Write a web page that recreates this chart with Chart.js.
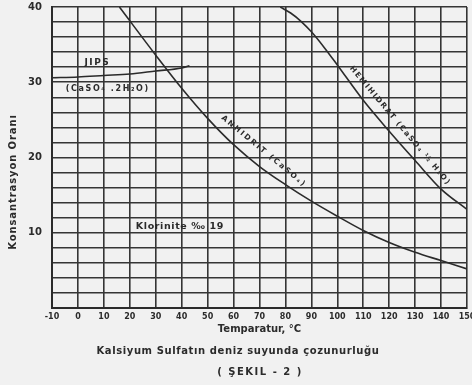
<!DOCTYPE html>
<html>
<head>
<meta charset="utf-8">
<script src="https://cdn.jsdelivr.net/npm/chart.js@4.4.1/dist/chart.umd.min.js"></script>
<style>
  html, body { margin: 0; padding: 0; background: #f1f1f1; }
  #wrap { width: 472px; height: 385px; }
</style>
</head>
<body>
<div id="wrap"><canvas id="c"></canvas></div>
<script>
// Temperature (°C) and concentration ratio
const jipsTemp = [-10, 0, 10, 20, 30, 40, 43];
const jipsConc = [30.6, 30.7, 30.9, 31.1, 31.5, 31.9, 32.2];

const anhTemp = [16, 30, 40, 50, 60, 70, 80, 90, 100, 110, 120, 130, 140, 150];
const anhConc = [40, 33.6, 29.2, 25.2, 21.7, 18.8, 16.4, 14.2, 12.2, 10.3, 8.7, 7.4, 6.3, 5.2];

const hemiTemp = [78, 82, 86, 90, 95, 100, 110, 120, 130, 140, 150];
const hemiConc = [40, 39.2, 38.1, 36.7, 34.6, 32.3, 27.6, 23.5, 19.6, 15.8, 13.1];

const yLabels = [10, 20, 30, 40];

const ink = "#2b2b2b";
const grid = "#353535";
const fontName = '"DejaVu Sans", sans-serif';

function pts(xs, ys) {
	return xs.map((t, i) => ({ x: t, y: ys[i] }));
}

function curve(data) {
	return {
		data: data,
		borderColor: ink,
		borderWidth: 1.6,
		pointRadius: 0,
		cubicInterpolationMode: "monotone",
		fill: false,
	};
}

// paper background
const paper = {
	id: "paper",
	beforeDraw(chart) {
		const { ctx } = chart;
		ctx.save();
		ctx.fillStyle = "#f1f1f1";
		ctx.fillRect(0, 0, chart.width, chart.height);
		ctx.restore();
	},
};

// curve labels, axis title and captions
const notes = {
	id: "notes",
	afterDraw(chart) {
		const { ctx, scales } = chart;
		const x = scales.x, y = scales.y;

		const put = (text, px, py, deg, size, spacing, weight) => {
			ctx.save();
			ctx.translate(px, py);
			ctx.rotate((deg * Math.PI) / 180);
			ctx.font = (weight || "bold") + " " + size + "px " + fontName;
			ctx.letterSpacing = (spacing || 0) + "px";
			ctx.fillStyle = ink;
			ctx.textAlign = "center";
			ctx.textBaseline = "middle";
			ctx.fillText(text, 0, 0);
			ctx.restore();
		};
		const at = (text, tx, ty, deg, size, spacing) =>
			put(text, x.getPixelForValue(tx), y.getPixelForValue(ty), deg, size, spacing);

		at("JIPS", 7.5, 32.6, 0, 9, 1.5);
		at("(CaSO\u2084 .2H\u2082O)", 11.5, 29.1, 0, 8, 1.6);
		at("ANHIDRIT (CaSO\u2084)", 71.7, 20.8, 39.7, 7.5, 2);
		at("HEMIHIDRAT (CaSO\u2084 \u00bd H\u2082O)", 124.2, 24.2, 50, 7.5, 1.5);
		at("Klorinite \u2030 19", 39.3, 10.8, 0, 9.5, 0.6);

		// y axis title
		put("Konsantrasyon Oranı", 13, 182, -90, 10, 0.9);

		const cx = chart.width / 2;
		put("Kalsiyum Sulfatın deniz suyunda çozunurluğu", cx + 2, 351, 0, 10, 0.6);
		put("( ŞEKIL - 2 )", cx + 24, 372, 0, 10, 1.5);
	},
};

new Chart(document.getElementById("c"), {
	type: "line",
	data: {
		datasets: [
			curve(pts(jipsTemp, jipsConc)),
			curve(pts(anhTemp, anhConc)),
			curve(pts(hemiTemp, hemiConc)),
		],
	},
	options: {
		responsive: true,
		maintainAspectRatio: false,
		animation: false,
		layout: { padding: { top: 7, right: 5, bottom: 47, left: 0 } },
		plugins: {
			legend: { display: false },
			tooltip: { enabled: false },
		},
		scales: {
			x: {
				type: "linear",
				min: -10,
				max: 150,
				afterFit(scale) {
					scale.height = 30;
					scale.paddingLeft = 0;
					scale.paddingRight = 0;
				},
				ticks: {
					stepSize: 10,
					autoSkip: false,
					maxRotation: 0,
					padding: 4,
					color: ink,
					font: { family: fontName, size: 8, weight: "bold" },
				},
				grid: { color: grid, lineWidth: 1.6, drawTicks: false },
				border: { color: ink, width: 2 },
				title: {
					display: true,
					text: "Temparatur, °C",
					color: ink,
					font: { family: fontName, size: 10, weight: "bold" },
					padding: { top: 0, bottom: 3 },
				},
			},
			y: {
				min: 0,
				max: 40,
				afterFit(scale) {
					scale.width = 52;
					scale.paddingTop = 0;
					scale.paddingBottom = 0;
				},
				ticks: {
					stepSize: 2,
					autoSkip: false,
					padding: 10,
					color: ink,
					font: { family: fontName, size: 10, weight: "bold" },
					callback: (v) => (yLabels.includes(v) ? String(v) : ""),
				},
				grid: { color: grid, lineWidth: 1.6, drawTicks: false },
				border: { color: ink, width: 2 },
			},
		},
	},
	plugins: [paper, notes],
});
</script>
</body>
</html>
